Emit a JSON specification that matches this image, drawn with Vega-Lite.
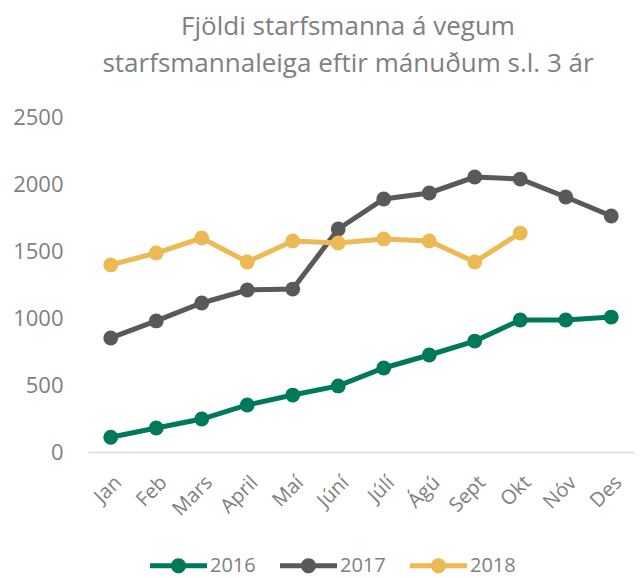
{
  "$schema": "https://vega.github.io/schema/vega-lite/v6.json",
  "width": 546,
  "height": 335,
  "autosize": {"type": "none"},
  "padding": {"left": 88, "top": 117, "right": 9, "bottom": 126},
  "background": "white",
  "config": {
    "view": {"stroke": null},
    "font": "Open Sans"
  },
  "title": {
    "text": ["Fjöldi starfsmanna á vegum", "starfsmannaleiga eftir mánuðum s.l. 3 ár"],
    "anchor": "middle",
    "frame": "group",
    "dx": -13,
    "fontSize": 26,
    "fontWeight": "normal",
    "color": "#808080",
    "lineHeight": 37,
    "offset": 29
  },
  "data": {
    "values": [
      {"m": "Jan", "y": "2016", "v": 110},
      {"m": "Feb", "y": "2016", "v": 179},
      {"m": "Mars", "y": "2016", "v": 246},
      {"m": "April", "y": "2016", "v": 351},
      {"m": "Maí", "y": "2016", "v": 425},
      {"m": "Júní", "y": "2016", "v": 493},
      {"m": "Júlí", "y": "2016", "v": 627},
      {"m": "Ágú", "y": "2016", "v": 724},
      {"m": "Sept", "y": "2016", "v": 828},
      {"m": "Okt", "y": "2016", "v": 985},
      {"m": "Nóv", "y": "2016", "v": 985},
      {"m": "Des", "y": "2016", "v": 1007},
      {"m": "Jan", "y": "2017", "v": 851},
      {"m": "Feb", "y": "2017", "v": 978},
      {"m": "Mars", "y": "2017", "v": 1112},
      {"m": "April", "y": "2017", "v": 1209},
      {"m": "Maí", "y": "2017", "v": 1216},
      {"m": "Júní", "y": "2017", "v": 1664},
      {"m": "Júlí", "y": "2017", "v": 1888},
      {"m": "Ágú", "y": "2017", "v": 1933},
      {"m": "Sept", "y": "2017", "v": 2052},
      {"m": "Okt", "y": "2017", "v": 2037},
      {"m": "Nóv", "y": "2017", "v": 1903},
      {"m": "Des", "y": "2017", "v": 1761},
      {"m": "Jan", "y": "2018", "v": 1396},
      {"m": "Feb", "y": "2018", "v": 1485},
      {"m": "Mars", "y": "2018", "v": 1597},
      {"m": "April", "y": "2018", "v": 1418},
      {"m": "Maí", "y": "2018", "v": 1575},
      {"m": "Júní", "y": "2018", "v": 1560},
      {"m": "Júlí", "y": "2018", "v": 1590},
      {"m": "Ágú", "y": "2018", "v": 1575},
      {"m": "Sept", "y": "2018", "v": 1418},
      {"m": "Okt", "y": "2018", "v": 1634}
    ]
  },
  "encoding": {
    "x": {
      "field": "m",
      "type": "ordinal",
      "sort": ["Jan", "Feb", "Mars", "April", "Maí", "Júní", "Júlí", "Ágú", "Sept", "Okt", "Nóv", "Des"],
      "scale": {"type": "point", "padding": 0.5},
      "axis": {
        "title": null,
        "labelAngle": -45,
        "labelFontSize": 20,
        "labelColor": "#808080",
        "labelPadding": 20,
        "ticks": false,
        "grid": false,
        "domainColor": "#d9d9d9",
        "domainWidth": 1.5
      }
    },
    "y": {
      "field": "v",
      "type": "quantitative",
      "scale": {"domain": [0, 2500], "nice": false},
      "axis": {
        "title": null,
        "values": [0, 500, 1000, 1500, 2000, 2500],
        "format": "d",
        "labelFontSize": 22,
        "labelColor": "#808080",
        "labelPadding": 25,
        "ticks": false,
        "grid": false,
        "domain": false
      }
    },
    "color": {
      "field": "y",
      "type": "nominal",
      "scale": {"domain": ["2016", "2017", "2018"], "range": ["#00785A", "#595959", "#EDB955"]},
      "legend": {
        "title": null,
        "orient": "none",
        "direction": "horizontal",
        "legendX": 76,
        "legendY": 434,
        "labelFontSize": 20,
        "labelColor": "#808080",
        "labelOffset": 17,
        "columnPadding": 24,
        "symbolSize": 812,
        "symbolType": "M -2 -0.175 L 2 -0.175 L 2 0.175 L -2 0.175 Z M -0.53 0 A 0.53 0.53 0 1 1 0.53 0 A 0.53 0.53 0 1 1 -0.53 0 Z",
        "encode": {
          "symbols": {
            "update": {
              "fill": {"scale": "color", "field": "value"},
              "stroke": {"value": "transparent"},
              "strokeWidth": {"value": 0},
              "opacity": {"value": 1}
            }
          }
        }
      }
    }
  },
  "layer": [
    {"mark": {"type": "line", "strokeWidth": 5}},
    {"mark": {"type": "point", "filled": true, "size": 220, "opacity": 1}}
  ]
}
